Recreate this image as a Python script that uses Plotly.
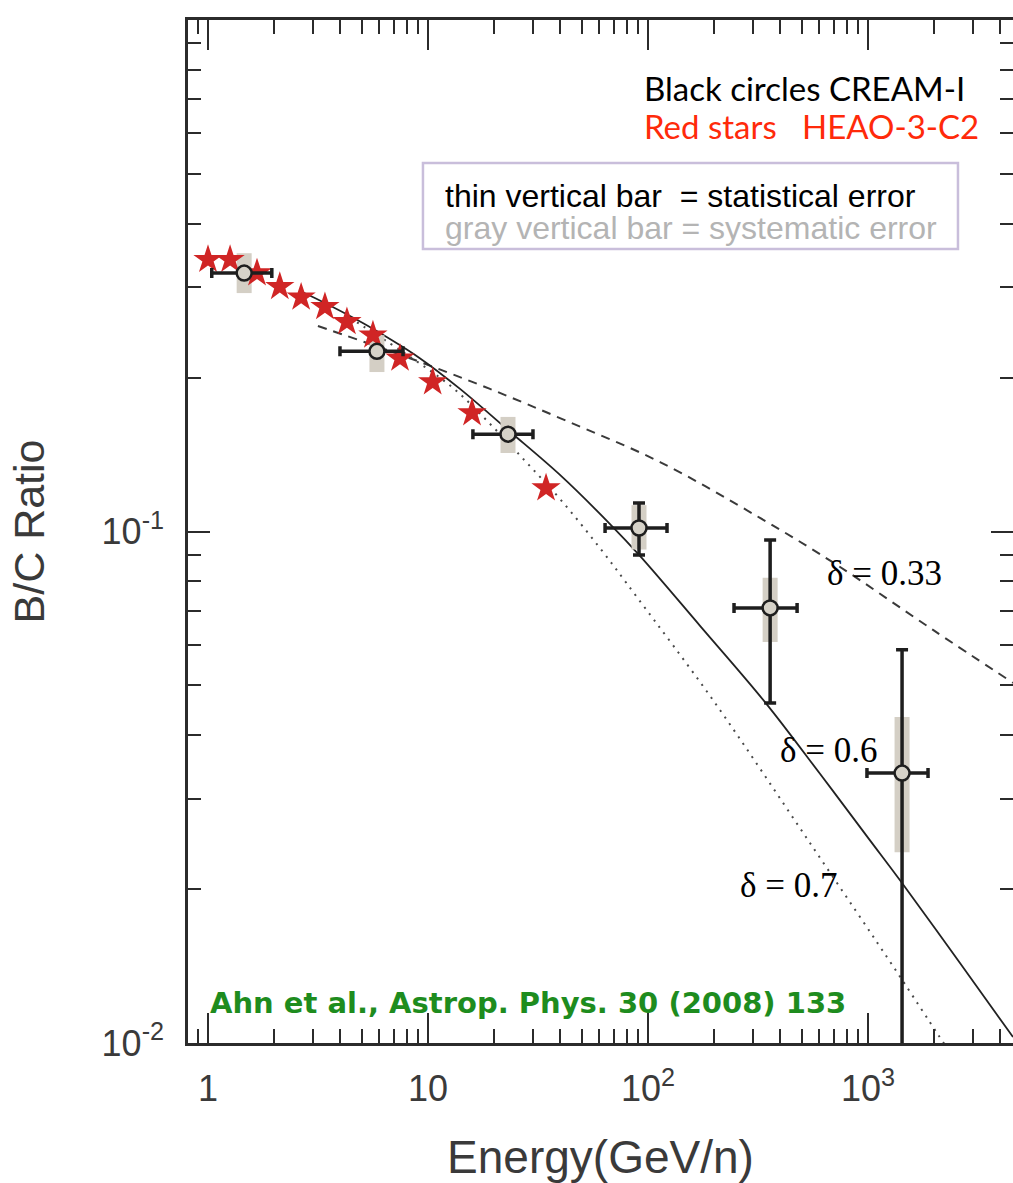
import plotly.graph_objects as go

# CREAM-I B/C measurements (energy in GeV/n)
cream_energy = [1.46, 5.86, 23.1, 91.0, 359.0, 1428.0]
cream_ratio = [0.320, 0.225, 0.155, 0.1016, 0.0709, 0.0337]
cream_e_low = [1.04, 3.98, 16.0, 63.8, 246.0, 989.0]
cream_e_high = [1.95, 7.7, 30.0, 122.0, 476.0, 1874.0]
cream_stat_low = [0.320, 0.225, 0.155, 0.0900, 0.0462, 0.0090]
cream_stat_high = [0.320, 0.225, 0.155, 0.1137, 0.0963, 0.0587]
cream_sys_low = [0.2925, 0.205, 0.1424, 0.0922, 0.0608, 0.0236]
cream_sys_high = [0.350, 0.242, 0.1675, 0.1126, 0.0812, 0.0434]

# HEAO-3-C2 B/C measurements
heao_energy = [1.0, 1.26, 1.67, 2.12, 2.65, 3.40, 4.28, 5.62, 7.46, 10.5, 15.85, 34.4]
heao_ratio = [0.340, 0.340, 0.320, 0.301, 0.287, 0.275, 0.257, 0.242, 0.218, 0.196, 0.1705, 0.1216]

# propagation model curves
model_033_energy = [3.16, 5.45, 9.20, 19.13, 42.8, 113.4, 322.9, 723.0, 1975.0, 4560.0]
model_033_ratio = [0.2522, 0.2326, 0.2145, 0.1900, 0.1644, 0.1367, 0.1063, 0.0860, 0.0642, 0.0506]

model_06_energy = [2.62, 3.06, 4.42, 5.74, 9.01, 13.98, 23.1, 39.8, 67.2, 91.9,
                   172.4, 340.2, 605.0, 1021.0, 1398.0, 2618.0, 4560.0]
model_06_ratio = [0.2953, 0.2861, 0.2638, 0.2477, 0.2194, 0.1900, 0.1579, 0.1290, 0.1034, 0.0896,
                  0.0654, 0.0464, 0.0336, 0.0249, 0.0208, 0.01433, 0.01027]

model_07_energy = [4.42, 7.46, 12.99, 19.75, 28.2, 39.8, 60.5, 89.1, 197.5, 545.0, 1354.0, 2058.0, 2239.0]
model_07_ratio = [0.2615, 0.2263, 0.1908, 0.1601, 0.1361, 0.1158, 0.0928, 0.0744, 0.0468, 0.0246,
                  0.01376, 0.01046, 0.00991]

x_tick_vals = [1, 10, 100, 1000]
x_tick_text = ["1", "10", "10<sup>2</sup>", "10<sup>3</sup>"]
y_tick_vals = [0.01, 0.1, 1]
y_tick_text = ["10<sup>-2</sup>", "10<sup>-1</sup>", "1"]

AXIS_COLOR = "#2b2b2b"
LABEL_COLOR = "#3a3a3a"

fig = go.Figure()

# model curves
fig.add_trace(go.Scatter(
    x=model_033_energy, y=model_033_ratio, mode="lines",
    line=dict(color="#3a3a3a", width=2, dash="9px,7px", shape="spline"),
    hoverinfo="skip"))
fig.add_trace(go.Scatter(
    x=model_07_energy, y=model_07_ratio, mode="lines",
    line=dict(color="#4a4a4a", width=2, dash="2px,6px", shape="spline"),
    hoverinfo="skip"))
fig.add_trace(go.Scatter(
    x=model_06_energy, y=model_06_ratio, mode="lines",
    line=dict(color="#222222", width=1.8, shape="spline"),
    hoverinfo="skip"))

# systematic error bands (gray)
sys_plus = [h - r for h, r in zip(cream_sys_high, cream_ratio)]
sys_minus = [r - l for r, l in zip(cream_ratio, cream_sys_low)]
fig.add_trace(go.Scatter(
    x=cream_energy, y=cream_ratio, mode="markers",
    marker=dict(size=2, color="rgba(0,0,0,0)"),
    error_y=dict(type="data", symmetric=False, array=sys_plus, arrayminus=sys_minus,
                 thickness=15, width=0, color="#d4cfc5"),
    hoverinfo="skip"))

# HEAO-3-C2 stars
fig.add_trace(go.Scatter(
    x=heao_energy, y=heao_ratio, mode="markers",
    marker=dict(symbol="star", size=22, color="#d02525", line=dict(width=0)),
    hoverinfo="skip"))

# CREAM-I circles with statistical errors
stat_plus = [h - r for h, r in zip(cream_stat_high, cream_ratio)]
stat_minus = [r - l for r, l in zip(cream_ratio, cream_stat_low)]
e_plus = [h - e for h, e in zip(cream_e_high, cream_energy)]
e_minus = [e - l for e, l in zip(cream_energy, cream_e_low)]
fig.add_trace(go.Scatter(
    x=cream_energy, y=cream_ratio, mode="markers",
    marker=dict(symbol="circle", size=15, color="#d6d2c8",
                line=dict(color="#1e1e1e", width=2.5)),
    error_y=dict(type="data", symmetric=False, array=stat_plus, arrayminus=stat_minus,
                 thickness=3.5, width=6, color="#1e1e1e"),
    error_x=dict(type="data", symmetric=False, array=e_plus, arrayminus=e_minus,
                 thickness=3.5, width=5, color="#1e1e1e"),
    hoverinfo="skip"))

# error-bar key: two lines in one text block, tight line spacing
error_key = ("<span style=\"font-size:32px\">thin vertical bar\u00a0\u00a0= statistical error</span><br>"
             "<span style=\"font-size:32px;color:#b4b4b4\">gray vertical bar = systematic error</span>")

annotations = [
    dict(text="Black circles CREAM-I", x=0.5503, y=0.9335, font=dict(family="Lato", size=33, color="#000000")),
    dict(text="Red stars\u00a0\u00a0\u00a0HEAO-3-C2", x=0.5503, y=0.8964, font=dict(family="Lato", size=33, color="#ff2a0a")),
    dict(text=error_key, x=0.3091, y=0.8124,
         font=dict(family="Liberation Sans", size=24.6, color="#000000")),
    dict(text="\u03b4 = 0.33", x=0.7721, y=0.4594, font=dict(family="Liberation Serif", size=35, color="#000000")),
    dict(text="\u03b4 = 0.6", x=0.7152, y=0.2864, font=dict(family="Liberation Serif", size=35, color="#000000")),
    dict(text="\u03b4 = 0.7", x=0.6667, y=0.1544, font=dict(family="Liberation Serif", size=35, color="#000000")),
    dict(text="<b>Ahn et al., Astrop. Phys. 30 (2008) 133</b>", x=0.0242, y=0.0391,
         font=dict(family="DejaVu Sans", size=29, color="#1e8c1e")),
]
for a in annotations:
    a.update(xref="paper", yref="paper", xanchor="left", yanchor="middle", showarrow=False)
annotations[2].update(align="left")

fig.add_shape(type="rect", xref="paper", yref="paper", x0=0.2848, x1=0.9333, y0=0.7761, y1=0.8602,
              line=dict(color="#c9bedb", width=2.5), fillcolor="rgba(0,0,0,0)")

fig.update_layout(
    width=1013, height=1183,
    margin=dict(l=188, r=0, t=20, b=140),
    paper_bgcolor="white", plot_bgcolor="white",
    showlegend=False,
    annotations=annotations,
    xaxis=dict(
        type="log", range=[-0.0909, 3.659], automargin=False,
        showline=True, linecolor=AXIS_COLOR, linewidth=2.5, mirror="allticks",
        showgrid=False, zeroline=False,
        tickmode="array", tickvals=x_tick_vals, ticktext=x_tick_text,
        ticks="inside", ticklen=30, tickwidth=2, tickcolor=AXIS_COLOR,
        ticklabelstandoff=12,
        tickfont=dict(family="Liberation Sans", size=36, color=LABEL_COLOR),
        minor=dict(ticks="inside", ticklen=14, tickwidth=2, tickcolor=AXIS_COLOR,
                   dtick="D1", showgrid=False),
        title=dict(text="Energy(GeV/n)", standoff=40,
                   font=dict(family="Liberation Sans", size=46, color=LABEL_COLOR)),
    ),
    yaxis=dict(
        type="log", range=[-2, 0], automargin=False,
        showline=True, linecolor=AXIS_COLOR, linewidth=2.5, mirror="allticks",
        showgrid=False, zeroline=False,
        tickmode="array", tickvals=y_tick_vals, ticktext=y_tick_text,
        ticks="inside", ticklen=22, tickwidth=2, tickcolor=AXIS_COLOR,
        ticklabelstandoff=14,
        tickfont=dict(family="Liberation Sans", size=36, color=LABEL_COLOR),
        minor=dict(ticks="inside", ticklen=13, tickwidth=2, tickcolor=AXIS_COLOR,
                   dtick="D1", showgrid=False),
        title=dict(text="B/C Ratio", standoff=44,
                   font=dict(family="Liberation Sans", size=43, color=LABEL_COLOR)),
    ),
)

fig.write_html("out.html")
